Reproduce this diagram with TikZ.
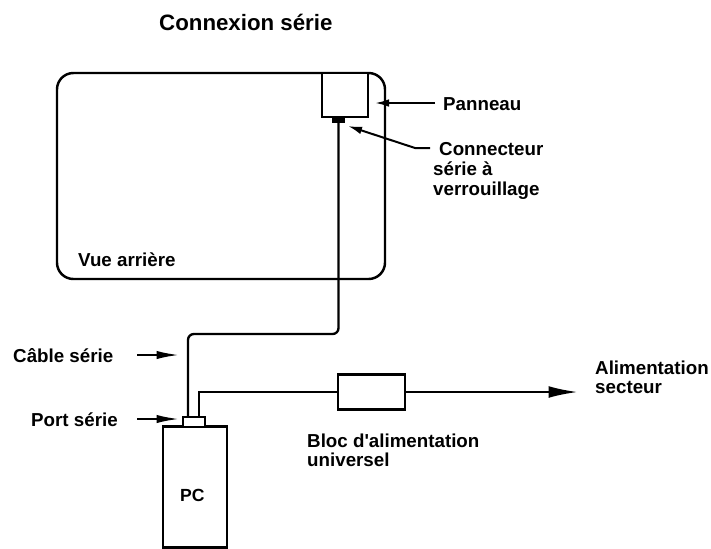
\documentclass[tikz,border=0pt]{standalone}
\usepackage{fontspec}
\setmainfont{Liberation Sans}[Ligatures=TeXOff]
\usetikzlibrary{arrows.meta,positioning}

\tikzset{
    lab/.style={font=\bfseries\fontsize{16}{18}\selectfont, inner sep=0pt, anchor=base west},
    box/.style={draw, line width=2.1pt, fill=white, inner sep=0pt},
    cable/.style={draw, line width=2pt},
    pointer/.style={line width=1.7pt, -{Latex[length=12pt,width=6.5pt]}},
    longpointer/.style={line width=1.7pt, -{Latex[length=19pt,width=7pt]}}
}

\begin{document}
\begin{tikzpicture}[x=0.03cm, y=-0.03cm]
    \useasboundingbox (0, 0) rectangle (711, 548);
    \node[lab, font=\bfseries\fontsize{19}{21}\selectfont] (titre) at (159, 30) {Connexion série};

    % Rear view
    \node[box, rounded corners=14pt, minimum width=9.84cm, minimum height=6.18cm] (arriere) at (221, 176) {};
    \node[lab] (vue) at (78, 266) {Vue arrière};
    \node[box, minimum width=1.38cm, minimum height=1.32cm] (panneau) at (345, 95) {};
    \node[box, fill=black, minimum width=0.33cm, minimum height=0.12cm] (connecteur) at (338.5, 119.5) {};

    % PC and power block
    \node[box, minimum width=1.92cm, minimum height=3.63cm] (pc) at (195, 487) {};
    \node[lab, font=\bfseries\fontsize{15}{17}\selectfont] (pclab) at (180, 501) {PC};
    \node[box, line width=1.6pt, minimum width=0.66cm, minimum height=0.3cm] (port) at (194, 422) {};
    \node[box, minimum width=2.01cm, minimum height=1.05cm] (bloc) at (371.5, 392) {};

    % Cables
    \coordinate (coude) at (188, 334);
    \draw[cable, rounded corners=5pt] (connecteur.south) -- (338.5, 334) -- (coude) -- (188, 417);
    \draw[cable] (199, 417) -- (199, 392) -- (bloc.west);
    \coordinate (secteur) at (578, 392);
    \draw[line width=2pt, -{Latex[length=25pt,width=10pt]}] (bloc.east) -- (secteur);

    % Labels on the right
    \node[lab] (lpanneau) at (443, 110) {Panneau};
    \node[lab] (lconn) at (439, 155) {Connecteur};
    \node[lab] (lserie) at (433, 175) {série à};
    \node[lab] (lverr) at (433, 195) {verrouillage};
    \node[lab] (lalim) at (595, 374) {Alimentation};
    \node[lab] (lsecteur) at (595, 393) {secteur};
    \node[lab] (lbloc) at (307, 447) {Bloc d'alimentation};
    \node[lab] (luniv) at (307, 466) {universel};

    % Labels on the left
    \node[lab] (lcable) at (13, 362) {Câble série};
    \node[lab] (lport) at (31, 426) {Port série};

    % Pointers
    \coordinate (pp) at (375, 103);
    \coordinate (ppd) at (435, 103);
    \draw[pointer] (ppd) -- (pp);
    \coordinate (pc1) at (430, 148);
    \coordinate (pc2) at (415, 148);
    \coordinate (pc3) at (348, 126);
    \draw[pointer] (pc1) -- (pc2) -- (pc3);
    \coordinate (pl1) at (137, 355);
    \coordinate (pl2) at (179, 355);
    \draw[longpointer] (pl1) -- (pl2);
    \coordinate (pr1) at (137, 419);
    \coordinate (pr2) at (179, 419);
    \draw[longpointer] (pr1) -- (pr2);
\end{tikzpicture}
\end{document}
